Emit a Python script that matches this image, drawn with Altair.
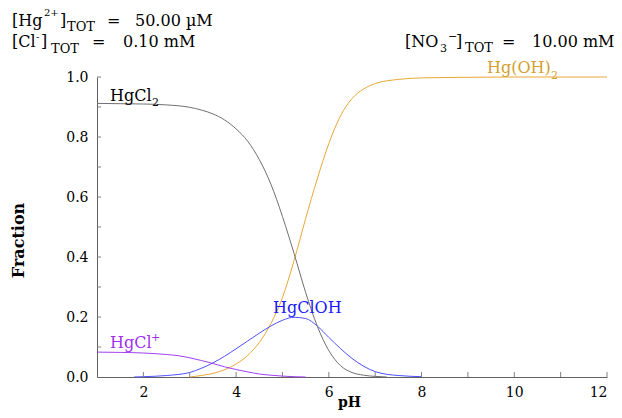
import altair as alt
import pandas as pd

# ---- data ----
ph_hgcl2 = [1.0, 1.5, 2.0, 2.5, 3.0, 3.25, 3.5, 3.75, 4.0, 4.25, 4.5, 4.75, 5.0, 5.25,
            5.5, 5.75, 6.0, 6.25, 6.5, 6.75, 7.0, 7.25]
frac_hgcl2 = [0.912, 0.911, 0.910, 0.907, 0.899, 0.890, 0.877, 0.857, 0.827, 0.786, 0.725,
              0.643, 0.535, 0.412, 0.282, 0.170, 0.088, 0.038, 0.015, 0.006, 0.002, 0.0]

ph_hgoh2 = [3.0, 3.25, 3.5, 3.75, 4.0, 4.25, 4.5, 4.75, 5.0, 5.25, 5.5, 5.75, 6.0, 6.25,
            6.5, 6.75, 7.0, 7.5, 8.0, 9.0, 10.0, 11.0, 12.0]
frac_hgoh2 = [0.0, 0.005, 0.012, 0.024, 0.043, 0.072, 0.115, 0.178, 0.265, 0.388, 0.528,
              0.660, 0.778, 0.870, 0.928, 0.960, 0.978, 0.992, 0.997, 0.999, 1.0, 1.0, 1.0]

ph_hgcloh = [1.8, 2.0, 2.5, 3.0, 3.25, 3.5, 3.75, 4.0, 4.25, 4.5, 4.75, 5.0, 5.25, 5.5,
             5.75, 6.0, 6.25, 6.5, 6.75, 7.0, 7.25, 7.5, 8.0]
frac_hgcloh = [0.0, 0.001, 0.005, 0.015, 0.029, 0.047, 0.069, 0.094, 0.120, 0.146, 0.170,
               0.189, 0.199, 0.195, 0.170, 0.132, 0.095, 0.062, 0.036, 0.018, 0.009, 0.005, 0.001]

ph_hgcl = [1.0, 1.5, 2.0, 2.5, 2.75, 3.0, 3.25, 3.5, 3.75, 4.0, 4.25, 4.5, 4.75, 5.0, 5.25, 5.5]
frac_hgcl = [0.083, 0.082, 0.080, 0.075, 0.071, 0.064, 0.055, 0.045, 0.034, 0.025, 0.017,
             0.010, 0.006, 0.003, 0.001, 0.0]

species = ["Hg(OH)2", "HgClOH", "HgCl+", "HgCl2"]
line_colors = ["#e8a838", "#5050ff", "#a040f0", "#707070"]

x_labels = [2, 4, 6, 8, 10, 12]
x_ticks = [2, 3, 4, 5, 6, 7, 8, 9, 10, 11, 12]
y_labels = [0.0, 0.2, 0.4, 0.6, 0.8, 1.0]
y_ticks = [0.1, 0.2, 0.3, 0.4, 0.5, 0.6, 0.7, 0.8, 0.9, 1.0]

rows = []
for name, phs, fr in [("Hg(OH)2", ph_hgoh2, frac_hgoh2), ("HgClOH", ph_hgcloh, frac_hgcloh),
                      ("HgCl+", ph_hgcl, frac_hgcl), ("HgCl2", ph_hgcl2, frac_hgcl2)]:
    for p, f in zip(phs, fr):
        rows.append({"pH": p, "fraction": f, "species": name})
df = pd.DataFrame(rows)

FONT = "DejaVu Serif"
xscale = alt.Scale(domain=[1, 12], nice=False, zero=False)
yscale = alt.Scale(domain=[0, 1], nice=False, zero=False)

lines = alt.Chart(df).mark_line(strokeWidth=1, interpolate="monotone").encode(
    x=alt.X("pH:Q", scale=xscale,
            axis=alt.Axis(values=x_labels, tickSize=0, labelPadding=8, grid=False,
                          title="pH", titleX=252, titleY=29, titleBaseline="alphabetic",
                          titleAlign="center", titleFontWeight="bold", titleFontSize=14)),
    y=alt.Y("fraction:Q", scale=yscale,
            axis=alt.Axis(values=y_labels, format=".1f", tickSize=0, labelPadding=9, grid=False,
                          title="Fraction", titleX=-79, titleY=163, titleAngle=270,
                          titleAlign="center", titleBaseline="middle",
                          titleFontWeight="bold", titleFontSize=16)),
    color=alt.Color("species:N", scale=alt.Scale(domain=species, range=line_colors), legend=None),
)

xt = alt.Chart(pd.DataFrame({"pH": x_ticks})).mark_rule(color="#808080", strokeWidth=1).encode(
    x=alt.X("pH:Q", scale=xscale), y=alt.value(300), y2=alt.value(295))
yt = alt.Chart(pd.DataFrame({"fraction": y_ticks})).mark_rule(color="#808080", strokeWidth=1).encode(
    y=alt.Y("fraction:Q", scale=yscale), x=alt.value(0), x2=alt.value(4))

anchor = pd.DataFrame({"a": [0]})


def label(text, px, py, size=16, color="black"):
    return alt.Chart(anchor).mark_text(
        text=text, align="left", baseline="alphabetic", font=FONT, fontSize=size, color=color
    ).encode(x=alt.value(px - 97), y=alt.value(py - 77))


texts = [
    # header line 1
    label("[Hg", 12, 26), label("2+", 44, 16, 10), label("]", 60, 26), label("TOT", 67, 31, 13),
    label("=", 107, 26), label("50.00 µM", 135, 26),
    # header line 2
    label("[Cl", 12, 47), label("-", 36, 40, 10), label("]", 41, 47), label("TOT", 51, 53, 13),
    label("=", 92, 47), label("0.10 mM", 123, 47),
    # header right
    label("[NO", 405, 47), label("3", 440, 52, 11), label("−", 448, 40, 11), label("]", 456, 47),
    label("TOT", 465, 52, 13), label("=", 502, 47), label("10.00 mM", 532, 47),
    # species labels
    label("HgCl", 110, 101), label("2", 152, 106, 11),
    label("Hg(OH)", 487, 73, 16, "#d4a030"), label("2", 551, 79, 11, "#d4a030"),
    label("HgClOH", 273, 313, 16, "#1a1aff"),
    label("HgCl", 110, 348, 16, "#a030f0"), label("+", 151, 341, 11, "#a030f0"),
]

chart = alt.layer(lines, xt, yt, *texts).properties(
    width=510, height=300,
    autosize=alt.AutoSizeParams(type="none"),
    padding={"left": 89, "top": 69, "right": 7, "bottom": 33},
    background="white",
).configure_view(stroke=None).configure_axis(
    labelFont=FONT, labelFontSize=14, labelColor="black", titleFont=FONT, titleColor="black",
    domainColor="#606060", domainWidth=1,
)

chart.save("out.html", embed_options={"renderer": "svg", "actions": False})
